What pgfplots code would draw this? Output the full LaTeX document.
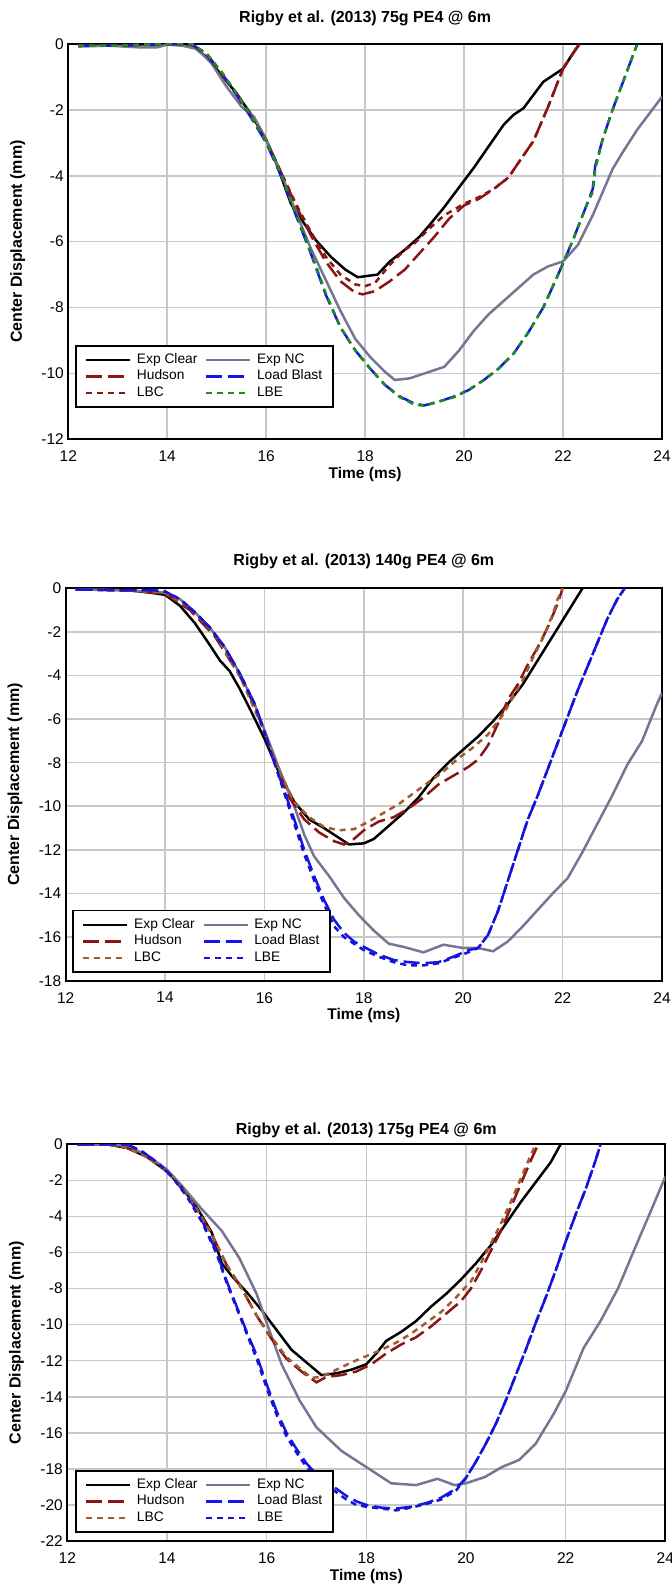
\documentclass[border=0pt]{standalone}
\usepackage{fontspec}
\setmainfont{Liberation Sans}
\usepackage{pgfplots}
\pgfplotsset{compat=1.18}
\definecolor{gridgray}{RGB}{200,200,200}
\definecolor{ncgray}{RGB}{118,118,148}
\definecolor{hudred}{RGB}{140,20,20}
\definecolor{lbcbrown}{RGB}{160,92,45}
\definecolor{lbblue}{RGB}{20,20,235}
\definecolor{lbegreen}{RGB}{30,140,30}
\definecolor{lbeblue}{RGB}{20,20,210}
\pgfplotsset{
  rigby/.style={
    scale only axis,
    anchor=south west,
    xmin=12, xmax=24,
    xtick={12,14,...,24},
    grid=major,
    major grid style={line width=1.6pt, color=gridgray},
    axis line style={line width=1.8pt},
    tick style={draw=none},
    ticklabel style={font=\fontsize{15.5}{18}\selectfont},
    xticklabel style={yshift=-8pt},
    yticklabel style={xshift=-1pt},
    /pgf/number format/assume math mode=true,
    title style={font=\bfseries\fontsize{16}{19}\selectfont, at={(0.5,1)}, anchor=base},
    xlabel={Time (ms)},
    ylabel={Center Displacement (mm)},
    xlabel style={font=\bfseries\fontsize{15.5}{18}\selectfont, at={(axis description cs:0.5,0)}, anchor=center, yshift=-35pt},
    ylabel style={font=\bfseries\fontsize{16}{19}\selectfont, at={(axis description cs:-0.085,0.5)}, anchor=center},
    legend columns=2,
    legend cell align=left,
    legend style={anchor=south west, draw=black, line width=1.8pt,
      font=\fontsize{13.8}{15}\selectfont, inner xsep=9pt, inner ysep=6pt,
      row sep=0pt, nodes={inner sep=1.5pt, text height=10pt, text depth=3.5pt},
      /tikz/every odd column/.append style={column sep=4pt},
      /tikz/every even column/.append style={column sep=6pt}},
    legend image code/.code={\draw[#1, line width=2.5pt] (0pt,0pt) -- (44pt,0pt);},
    every axis plot/.append style={line width=2.5pt},
  },
  dashlong/.style={dash pattern=on 16pt off 6pt},
  dotshort/.style={dash pattern=on 6pt off 5pt},
}
\begin{document}
\begin{tikzpicture}
\useasboundingbox (0pt,0pt) rectangle (672pt,1585pt);
% ---------------- Panel 1 ----------------
\begin{axis}[rigby, at={(68.3pt,1145.7pt)}, width=593.7pt, height=395.3pt,
  ymin=-12, ymax=0, ytick={-12,-10,...,0},
  title={Rigby et al. (2013) 75g PE4 @ 6m}, title style={yshift=15pt},
  legend style={at={(0.0113,0.079)}}]
\addplot[black] coordinates {(12.2,-0.05)(12.6,-0.03)(13.0,-0.05)(13.5,-0.08)(13.8,-0.05)(14.0,0.0)(14.3,0.0)(14.5,-0.05)(14.8,-0.4)(15.1,-0.95)(15.4,-1.5)(15.7,-2.15)(16.0,-2.9)(16.2,-3.6)(16.5,-4.85)(16.7,-5.3)(17.0,-5.95)(17.3,-6.45)(17.6,-6.85)(17.85,-7.08)(18.0,-7.05)(18.25,-7.0)(18.5,-6.6)(18.8,-6.25)(19.1,-5.85)(19.3,-5.5)(19.6,-4.95)(19.9,-4.35)(20.2,-3.75)(20.5,-3.1)(20.8,-2.45)(21.0,-2.15)(21.2,-1.95)(21.4,-1.55)(21.6,-1.15)(21.8,-0.95)(22.0,-0.75)(22.15,-0.4)(22.33,0)};
\addlegendentry{Exp Clear}
\addplot[ncgray] coordinates {(12.2,-0.08)(12.8,-0.05)(13.4,-0.1)(13.8,-0.1)(14.0,-0.02)(14.3,-0.05)(14.6,-0.15)(14.9,-0.6)(15.2,-1.3)(15.5,-1.9)(15.75,-2.2)(16.0,-2.9)(16.3,-3.9)(16.6,-5.1)(16.9,-6.2)(17.2,-7.15)(17.5,-8.1)(17.8,-8.95)(18.1,-9.5)(18.4,-9.95)(18.6,-10.2)(18.9,-10.15)(19.2,-10.0)(19.6,-9.8)(19.9,-9.3)(20.2,-8.7)(20.5,-8.2)(20.8,-7.8)(21.1,-7.4)(21.4,-7.0)(21.7,-6.75)(22.0,-6.6)(22.3,-6.1)(22.6,-5.2)(23.0,-3.8)(23.2,-3.3)(23.5,-2.6)(23.8,-2.0)(24.0,-1.6)};
\addlegendentry{Exp NC}
\addplot[hudred, dashlong] coordinates {(12.2,-0.05)(13.0,-0.05)(14.0,0)(14.5,-0.02)(14.8,-0.3)(15.1,-0.9)(15.4,-1.5)(15.7,-2.2)(16.0,-2.95)(16.3,-3.9)(16.6,-4.9)(16.9,-5.8)(17.2,-6.6)(17.5,-7.2)(17.8,-7.55)(17.95,-7.6)(18.2,-7.5)(18.5,-7.2)(18.8,-6.85)(19.1,-6.35)(19.4,-5.85)(19.7,-5.3)(20.0,-4.9)(20.3,-4.7)(20.6,-4.4)(20.9,-4.05)(21.1,-3.6)(21.4,-2.95)(21.7,-1.9)(22.0,-0.75)(22.15,-0.4)(22.33,0)};
\addlegendentry{Hudson}
\addplot[lbblue, dashlong] coordinates {(12.2,-0.05)(13.0,-0.05)(14.0,0)(14.5,0)(14.8,-0.35)(15.1,-0.9)(15.4,-1.55)(15.7,-2.25)(16.0,-3.0)(16.3,-4.0)(16.6,-5.2)(16.9,-6.35)(17.2,-7.6)(17.5,-8.6)(17.8,-9.3)(18.1,-9.85)(18.4,-10.35)(18.7,-10.7)(19.0,-10.92)(19.2,-10.97)(19.5,-10.85)(19.8,-10.7)(20.1,-10.5)(20.4,-10.2)(20.7,-9.85)(21.0,-9.4)(21.3,-8.75)(21.6,-8.0)(21.9,-7.0)(22.2,-5.95)(22.5,-4.8)(22.6,-4.4)(22.65,-3.7)(22.8,-2.9)(23.0,-2.0)(23.2,-1.2)(23.5,0)};
\addlegendentry{Load Blast}
\addplot[hudred, dotshort] coordinates {(12.2,-0.05)(13.0,-0.05)(14.0,0)(14.5,-0.02)(14.8,-0.3)(15.1,-0.9)(15.4,-1.5)(15.7,-2.2)(16.0,-2.95)(16.3,-3.9)(16.6,-4.85)(16.9,-5.7)(17.2,-6.45)(17.5,-7.0)(17.8,-7.3)(18.0,-7.35)(18.2,-7.25)(18.5,-6.7)(18.8,-6.25)(19.0,-6.05)(19.3,-5.6)(19.6,-5.2)(20.0,-4.85)(20.3,-4.65)(20.6,-4.4)(20.9,-4.05)(21.1,-3.6)(21.4,-2.95)(21.7,-1.9)(22.0,-0.75)(22.15,-0.4)(22.33,0)};
\addlegendentry{LBC}
\addplot[lbegreen, dotshort] coordinates {(12.2,-0.05)(13.0,-0.05)(14.0,0)(14.5,0)(14.8,-0.3)(15.1,-0.85)(15.4,-1.5)(15.7,-2.2)(16.0,-2.95)(16.3,-3.95)(16.6,-5.15)(16.9,-6.3)(17.2,-7.55)(17.5,-8.6)(17.8,-9.3)(18.1,-9.85)(18.4,-10.35)(18.7,-10.72)(19.0,-10.95)(19.2,-10.98)(19.5,-10.85)(19.8,-10.72)(20.1,-10.5)(20.4,-10.2)(20.7,-9.85)(21.0,-9.4)(21.3,-8.75)(21.6,-8.0)(21.9,-7.0)(22.2,-5.95)(22.5,-4.8)(22.6,-4.5)(22.65,-3.8)(22.8,-2.9)(23.0,-2.0)(23.2,-1.2)(23.5,0)};
\addlegendentry{LBE}
\end{axis}
% ---------------- Panel 2 ----------------
\begin{axis}[rigby, at={(65.7pt,604.3pt)}, width=596.3pt, height=392.4pt,
  ymin=-18, ymax=0, ytick={-18,-16,...,0},
  title={Rigby et al. (2013) 140g PE4 @ 6m}, title style={yshift=17pt},
  legend style={at={(0.011,0.0196)}}]
\addplot[black] coordinates {(12.2,-0.05)(12.8,-0.05)(13.3,-0.1)(13.7,-0.2)(14.0,-0.3)(14.3,-0.8)(14.6,-1.6)(14.9,-2.6)(15.1,-3.3)(15.3,-3.8)(15.5,-4.6)(15.7,-5.5)(16.0,-6.9)(16.3,-8.5)(16.6,-9.8)(16.9,-10.6)(17.2,-11.0)(17.5,-11.45)(17.7,-11.75)(18.0,-11.7)(18.2,-11.5)(18.5,-10.9)(18.8,-10.3)(19.1,-9.6)(19.4,-8.7)(19.7,-8.0)(20.0,-7.4)(20.3,-6.8)(20.6,-6.1)(20.9,-5.3)(21.2,-4.4)(21.5,-3.3)(21.8,-2.2)(22.1,-1.1)(22.4,0)};
\addlegendentry{Exp Clear}
\addplot[ncgray] coordinates {(12.2,-0.05)(13.3,-0.1)(14.0,-0.2)(14.3,-0.5)(14.6,-1.1)(14.9,-1.8)(15.2,-2.7)(15.5,-3.9)(15.8,-5.3)(16.0,-6.5)(16.3,-8.3)(16.6,-10.0)(16.8,-11.3)(17.0,-12.3)(17.3,-13.2)(17.6,-14.2)(17.9,-15.0)(18.2,-15.7)(18.5,-16.3)(18.8,-16.45)(19.2,-16.7)(19.6,-16.35)(20.0,-16.5)(20.3,-16.5)(20.6,-16.65)(20.9,-16.2)(21.2,-15.5)(21.5,-14.75)(21.8,-14.0)(22.1,-13.3)(22.4,-12.1)(22.7,-10.8)(23.0,-9.5)(23.3,-8.1)(23.6,-7.0)(23.9,-5.3)(24.0,-4.8)};
\addlegendentry{Exp NC}
\addplot[hudred, dashlong] coordinates {(12.2,-0.05)(13.3,-0.1)(14.0,-0.25)(14.5,-1.0)(15.0,-2.2)(15.5,-4.0)(15.8,-5.4)(16.0,-6.6)(16.25,-8.2)(16.5,-9.6)(16.8,-10.6)(17.1,-11.2)(17.4,-11.6)(17.6,-11.75)(17.8,-11.5)(18.0,-11.1)(18.3,-10.7)(18.6,-10.5)(18.9,-10.1)(19.2,-9.6)(19.5,-9.0)(19.8,-8.6)(20.1,-8.2)(20.3,-7.85)(20.5,-7.2)(20.7,-6.2)(20.9,-5.1)(21.1,-4.4)(21.3,-3.5)(21.5,-2.7)(21.7,-1.8)(21.9,-0.7)(22.0,0)};
\addlegendentry{Hudson}
\addplot[lbblue, dashlong] coordinates {(12.2,-0.05)(13.3,-0.1)(13.8,-0.1)(14.0,-0.15)(14.3,-0.5)(14.6,-1.1)(14.9,-1.8)(15.2,-2.7)(15.5,-3.9)(15.8,-5.3)(16.0,-6.6)(16.2,-8.0)(16.4,-9.3)(16.6,-10.6)(16.8,-12.0)(17.0,-13.2)(17.2,-14.3)(17.4,-15.2)(17.6,-15.8)(17.8,-16.2)(18.0,-16.45)(18.3,-16.8)(18.6,-17.05)(18.9,-17.15)(19.2,-17.2)(19.5,-17.15)(19.8,-16.9)(20.1,-16.6)(20.3,-16.5)(20.5,-15.9)(20.7,-14.8)(20.9,-13.4)(21.1,-12.0)(21.3,-10.6)(21.5,-9.5)(21.7,-8.3)(21.9,-7.1)(22.1,-5.9)(22.3,-4.7)(22.5,-3.6)(22.7,-2.5)(22.9,-1.4)(23.1,-0.5)(23.25,0)};
\addlegendentry{Load Blast}
\addplot[lbcbrown, dotshort] coordinates {(12.2,-0.05)(13.3,-0.1)(14.0,-0.2)(14.5,-0.9)(15.0,-2.1)(15.5,-4.0)(16.0,-6.6)(16.3,-8.4)(16.6,-9.8)(16.9,-10.5)(17.2,-10.95)(17.5,-11.1)(17.8,-11.05)(18.1,-10.7)(18.4,-10.3)(18.7,-9.9)(19.0,-9.4)(19.3,-8.9)(19.6,-8.4)(19.9,-7.8)(20.2,-7.3)(20.5,-6.7)(20.8,-5.8)(21.0,-5.0)(21.2,-4.2)(21.4,-3.2)(21.6,-2.3)(21.8,-1.2)(21.9,-0.5)(22.0,0)};
\addlegendentry{LBC}
\addplot[lbeblue, dotshort] coordinates {(12.2,-0.05)(13.3,-0.1)(13.8,-0.1)(14.0,-0.15)(14.3,-0.5)(14.6,-1.1)(14.9,-1.8)(15.2,-2.7)(15.5,-3.9)(15.8,-5.3)(16.0,-6.6)(16.2,-8.0)(16.4,-9.4)(16.6,-10.8)(16.8,-12.2)(17.0,-13.4)(17.2,-14.5)(17.4,-15.5)(17.6,-16.0)(17.8,-16.3)(18.0,-16.6)(18.3,-16.9)(18.6,-17.15)(18.9,-17.3)(19.2,-17.3)(19.5,-17.2)(19.8,-16.95)(20.1,-16.7)(20.3,-16.5)(20.5,-15.9)(20.7,-14.8)(20.9,-13.4)(21.1,-12.0)(21.3,-10.6)(21.5,-9.5)(21.7,-8.3)(21.9,-7.1)(22.1,-5.9)(22.3,-4.7)(22.5,-3.6)(22.7,-2.5)(22.9,-1.4)(23.1,-0.5)(23.25,0)};
\addlegendentry{LBE}
\end{axis}
% ---------------- Panel 3 ----------------
\begin{axis}[rigby, at={(67.3pt,44pt)}, width=598pt, height=396.7pt,
  ymin=-22, ymax=0, ytick={-22,-20,...,0},
  title={Rigby et al. (2013) 175g PE4 @ 6m}, title style={yshift=4pt},
  legend style={at={(0.013,0.02)}}]
\addplot[black] coordinates {(12.2,0)(12.8,0)(13.2,-0.2)(13.6,-0.7)(14.0,-1.5)(14.3,-2.4)(14.6,-3.5)(14.9,-4.9)(15.1,-6.6)(15.3,-7.3)(15.6,-8.2)(15.9,-9.2)(16.2,-10.3)(16.5,-11.4)(16.8,-12.1)(17.1,-12.8)(17.4,-12.7)(17.7,-12.5)(18.0,-12.2)(18.2,-11.6)(18.4,-10.9)(18.7,-10.4)(19.0,-9.8)(19.3,-9.0)(19.6,-8.3)(19.9,-7.5)(20.2,-6.6)(20.5,-5.6)(20.8,-4.4)(21.1,-3.2)(21.4,-2.1)(21.7,-1.0)(21.9,0)};
\addlegendentry{Exp Clear}
\addplot[ncgray] coordinates {(12.2,0)(12.8,0)(13.2,-0.1)(13.6,-0.6)(14.0,-1.4)(14.3,-2.3)(14.7,-3.6)(15.1,-4.8)(15.45,-6.3)(15.8,-8.3)(16.0,-9.9)(16.3,-12.2)(16.66,-14.2)(17.0,-15.7)(17.5,-17.0)(18.0,-17.9)(18.5,-18.8)(19.0,-18.9)(19.43,-18.55)(19.77,-18.9)(20.0,-18.8)(20.38,-18.45)(20.72,-17.9)(21.07,-17.5)(21.4,-16.6)(21.76,-14.95)(22.0,-13.7)(22.36,-11.3)(22.7,-9.8)(23.05,-8.0)(23.4,-5.7)(23.74,-3.5)(24.0,-1.8)};
\addlegendentry{Exp NC}
\addplot[hudred, dashlong] coordinates {(12.2,0)(12.8,0)(13.2,-0.2)(13.6,-0.7)(14.0,-1.5)(14.3,-2.4)(14.6,-3.6)(14.9,-5.0)(15.2,-6.7)(15.5,-8.0)(15.8,-9.5)(16.1,-10.8)(16.4,-11.9)(16.7,-12.6)(17.0,-13.2)(17.2,-12.9)(17.5,-12.8)(17.8,-12.6)(18.1,-12.2)(18.4,-11.6)(18.7,-11.1)(19.0,-10.7)(19.3,-10.1)(19.6,-9.4)(19.9,-8.7)(20.1,-8.0)(20.3,-7.0)(20.5,-5.9)(20.7,-4.8)(20.9,-3.5)(21.1,-2.2)(21.3,-0.9)(21.45,0)};
\addlegendentry{Hudson}
\addplot[lbblue, dashlong] coordinates {(12.2,0)(12.8,0)(13.2,0)(13.5,-0.4)(13.8,-1.0)(14.1,-1.8)(14.4,-2.8)(14.7,-4.2)(15.0,-6.0)(15.2,-7.6)(15.4,-9.0)(15.6,-10.4)(15.8,-11.7)(16.0,-13.3)(16.2,-14.8)(16.4,-16.0)(16.6,-16.9)(16.8,-17.7)(17.0,-18.3)(17.2,-18.8)(17.4,-19.1)(17.6,-19.5)(17.8,-19.8)(18.0,-20.0)(18.3,-20.15)(18.6,-20.2)(18.9,-20.1)(19.2,-19.9)(19.5,-19.6)(19.8,-19.1)(20.0,-18.5)(20.2,-17.6)(20.4,-16.6)(20.6,-15.5)(20.8,-14.2)(21.0,-12.8)(21.2,-11.4)(21.4,-9.9)(21.6,-8.5)(21.8,-7.0)(22.0,-5.4)(22.2,-3.9)(22.4,-2.5)(22.6,-0.9)(22.7,0)};
\addlegendentry{Load Blast}
\addplot[lbcbrown, dotshort] coordinates {(12.2,0)(12.8,0)(13.2,-0.2)(13.6,-0.7)(14.0,-1.5)(14.3,-2.4)(14.6,-3.6)(14.9,-5.0)(15.2,-6.7)(15.5,-8.0)(15.8,-9.5)(16.1,-10.7)(16.4,-11.8)(16.7,-12.5)(16.9,-12.95)(17.1,-12.9)(17.4,-12.5)(17.7,-12.1)(18.0,-11.75)(18.3,-11.4)(18.6,-11.0)(18.9,-10.5)(19.2,-9.9)(19.5,-9.3)(19.8,-8.5)(20.1,-7.6)(20.3,-6.6)(20.5,-5.5)(20.7,-4.4)(20.9,-3.2)(21.1,-1.9)(21.3,-0.6)(21.4,0)};
\addlegendentry{LBC}
\addplot[lbeblue, dotshort] coordinates {(12.2,0)(12.8,0)(13.2,0)(13.5,-0.4)(13.8,-1.0)(14.1,-1.8)(14.4,-2.9)(14.7,-4.3)(15.0,-6.1)(15.2,-7.7)(15.4,-9.1)(15.6,-10.5)(15.8,-11.9)(16.0,-13.5)(16.2,-15.0)(16.4,-16.2)(16.6,-17.1)(16.8,-17.9)(17.0,-18.5)(17.2,-18.9)(17.4,-19.3)(17.6,-19.7)(17.8,-20.0)(18.0,-20.1)(18.3,-20.2)(18.6,-20.3)(18.9,-20.15)(19.2,-19.95)(19.5,-19.7)(19.8,-19.2)(20.0,-18.5)(20.2,-17.6)(20.4,-16.6)(20.6,-15.5)(20.8,-14.2)(21.0,-12.8)(21.2,-11.4)(21.4,-9.9)(21.6,-8.5)(21.8,-7.0)(22.0,-5.4)(22.2,-3.9)(22.4,-2.5)(22.6,-0.9)(22.7,0)};
\addlegendentry{LBE}
\end{axis}
\end{tikzpicture}
\end{document}
